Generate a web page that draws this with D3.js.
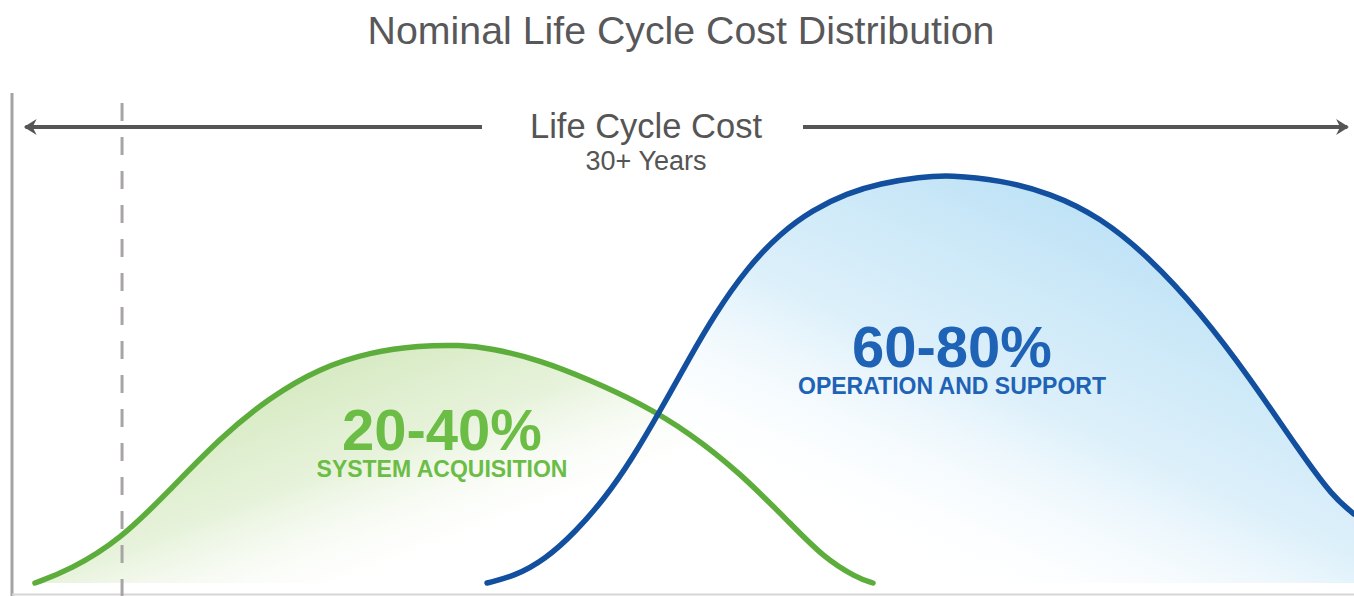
<!doctype html>
<html>
<head>
<meta charset="utf-8">
<script src="https://d3js.org/d3.v7.min.js"></script>
<style>
  body { margin: 0; background: #fff; }
  svg { display: block; }
  text { font-family: Arial, "Liberation Sans", Helvetica, sans-serif; }
</style>
</head>
<body>
<svg width="1354" height="596"></svg>
<script>
// share of life cycle (0-100) vs relative cost (0-100)
var acqX  = [1.71, 4.32, 8.05, 11.77, 15.5, 19.23, 22.95, 26.68, 30.4, 33.38, 35.62, 39.34, 43.07, 46.8, 50.52, 54.25, 57.97, 60.43, 62.97, 64.16];
var acqY  = [0, 3.19, 10.54, 22.79, 35.54, 45.59, 52.7, 56.62, 58.21, 58.33, 57.6, 54.66, 49.75, 44.12, 36.76, 26.96, 14.71, 6.37, 1.23, 0];
var opsX  = [35.4, 37.48, 39.72, 41.95, 44.19, 46.2, 48.29, 50.52, 52.38, 54.77, 57.23, 59.69, 62.22, 64.68, 67.66, 69.9, 73.62, 77.35, 81.07, 84.8, 88.52, 92.25, 95.98, 98.44, 100];
var opsY  = [0, 1.72, 5.76, 12.38, 20.83, 30.39, 42.16, 55.39, 65.93, 77.21, 85.69, 91.52, 95.51, 97.94, 99.5, 100, 98.77, 95.59, 89.71, 79.66, 66.42, 50.25, 32.11, 21.08, 16.91];
var labels = ["20-40%", "60-80%"];
var subLabels = ["SYSTEM ACQUISITION", "OPERATION AND SUPPORT"];
var lifeSpan = [1, 99.5];      // arrow extent
var milestone = 8.2;           // dashed marker

var svg = d3.select("svg");
var x = d3.scaleLinear().domain([0, 100]).range([12, 1354]);
var y = d3.scaleLinear().domain([0, 100]).range([583, 175]);

var defs = svg.append("defs");
var gg = defs.append("linearGradient").attr("id", "gFill")
    .attr("x1", 0.1).attr("y1", 0.2).attr("x2", 0.9).attr("y2", 0.8);
gg.append("stop").attr("offset", "0%").attr("stop-color", "#c9e3ae").attr("stop-opacity", 0.9);
gg.append("stop").attr("offset", "40%").attr("stop-color", "#deeece").attr("stop-opacity", 0.75);
gg.append("stop").attr("offset", "75%").attr("stop-color", "#ffffff").attr("stop-opacity", 0);

var bg = defs.append("linearGradient").attr("id", "bFill")
    .attr("x1", 1).attr("y1", 0.3).attr("x2", 0.3).attr("y2", 1);
bg.append("stop").attr("offset", "0%").attr("stop-color", "#b9e0f5").attr("stop-opacity", 1);
bg.append("stop").attr("offset", "45%").attr("stop-color", "#d4ecf9").attr("stop-opacity", 0.8);
bg.append("stop").attr("offset", "85%").attr("stop-color", "#ffffff").attr("stop-opacity", 0);

defs.append("marker").attr("id", "arr").attr("viewBox", "0 0 10 10")
    .attr("refX", 7).attr("refY", 5).attr("markerWidth", 4).attr("markerHeight", 4)
    .attr("orient", "auto-start-reverse")
  .append("path").attr("d", "M0,0 L8,5 L0,10 L2.5,5 Z").attr("fill", "#555");

var acq = acqX.map(function(d, i) { return [d, acqY[i]]; });
var ops = opsX.map(function(d, i) { return [d, opsY[i]]; });

var area = d3.area().curve(d3.curveBasis)
    .x(function(d) { return x(d[0]); }).y0(y(0)).y1(function(d) { return y(d[1]); });
var line = d3.line().curve(d3.curveBasis)
    .x(function(d) { return x(d[0]); }).y(function(d) { return y(d[1]); });

// fills
svg.append("path").datum(acq).attr("d", area).attr("fill", "url(#gFill)");
svg.append("path").datum(ops).attr("d", area).attr("fill", "url(#bFill)");

// frame
svg.append("line").attr("x1", x(0)).attr("x2", x(0)).attr("y1", 93).attr("y2", 596)
    .attr("stroke", "#a3a3a3").attr("stroke-width", 3);
svg.append("line").attr("x1", x(0)).attr("x2", 1354).attr("y1", 594.5).attr("y2", 594.5)
    .attr("stroke", "#d6d6d6").attr("stroke-width", 2);

svg.append("line").attr("x1", x(milestone)).attr("x2", x(milestone)).attr("y1", 103).attr("y2", 596)
    .attr("stroke", "#a8a3a6").attr("stroke-width", 3).attr("stroke-dasharray", "18,16");

// curves
svg.append("path").datum(acq).attr("d", line).attr("fill", "none")
    .attr("stroke", "#5cad3b").attr("stroke-width", 5.5).attr("stroke-linecap", "round");
svg.append("path").datum(ops).attr("d", line).attr("fill", "none")
    .attr("stroke", "#124f9e").attr("stroke-width", 5.5).attr("stroke-linecap", "round");

// life cycle arrow
var gapL = 482, gapR = 803, ay = 127;
svg.append("line").attr("x1", gapL).attr("x2", x(lifeSpan[0])).attr("y1", ay).attr("y2", ay)
    .attr("stroke", "#555").attr("stroke-width", 4).attr("marker-end", "url(#arr)");
svg.append("line").attr("x1", gapR).attr("x2", x(lifeSpan[1])).attr("y1", ay).attr("y2", ay)
    .attr("stroke", "#555").attr("stroke-width", 4).attr("marker-end", "url(#arr)");

svg.append("text").attr("x", 646).attr("y", 138).attr("text-anchor", "middle")
    .attr("font-size", 34.5).attr("fill", "#555").text("Life Cycle Cost");
svg.append("text").attr("x", 646).attr("y", 170).attr("text-anchor", "middle")
    .attr("font-size", 27).attr("fill", "#555").text("30+ Years");

// title
svg.append("text").attr("x", 681).attr("y", 44).attr("text-anchor", "middle")
    .attr("font-size", 39.3).attr("fill", "#58585a").text("Nominal Life Cycle Cost Distribution");

// share labels
var lab = [{x: 442, y: 450, c: "#6bbd45"}, {x: 952, y: 367, c: "#1e63b5"}];
lab.forEach(function(p, i) {
  svg.append("text").attr("x", p.x).attr("y", p.y).attr("text-anchor", "middle")
      .attr("font-size", 58).attr("font-weight", "bold").attr("fill", p.c).text(labels[i]);
  svg.append("text").attr("x", p.x).attr("y", p.y + 27).attr("text-anchor", "middle")
      .attr("font-size", 23).attr("font-weight", "bold").attr("fill", p.c).text(subLabels[i]);
});
</script>
</body>
</html>
